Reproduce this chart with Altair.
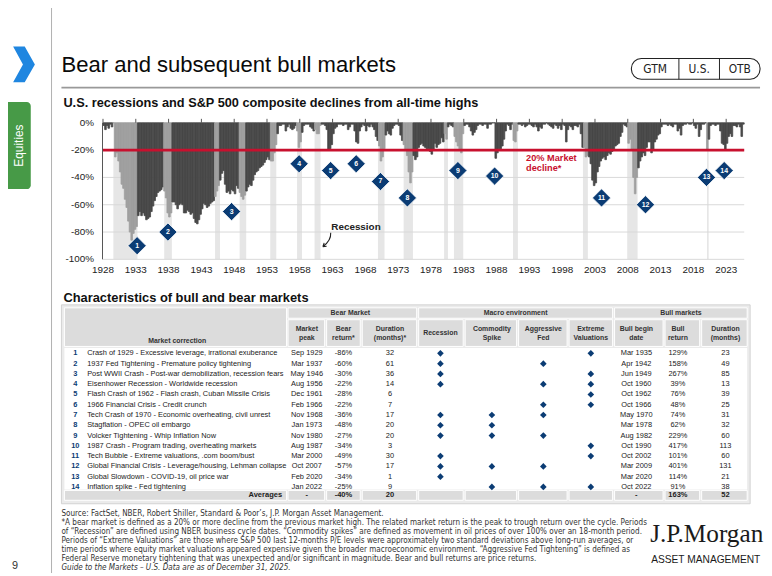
import altair as alt
import pandas as pd

OFF = 8
W, H = 764, 568


def P(v):
    return v - OFF


SANS = "Liberation Sans, Arial, Helvetica, sans-serif"
NARROW = "Liberation Sans Narrow, Arial Narrow, DejaVu Sans Condensed, sans-serif"
SERIF = "Liberation Serif, Times New Roman, serif"
NAVY = "#0b3c74"
DARK = "#484848"
MID = "#9f9f9f"
BAND = "#e6e6e6"
RED = "#c8102e"

# ---------------- chart data ----------------
START_YEAR = 1928
# quarterly decline from all-time high (%)
drawdown_pct = [
    -2, -5, -2, -4,      # 1928
    -1, -3, 0, -25,      # 1929
    -22, -28, -36, -45,  # 1930
    -48, -56, -62, -72,  # 1931
    -80, -86, -81, -78,  # 1932
    -76, -68, -65, -68,  # 1933
    -66, -68, -71, -70,  # 1934
    -69, -65, -61, -57,  # 1935
    -54, -51, -50, -49,  # 1936
    -47, -50, -55, -66,  # 1937
    -69, -66, -58, -58,  # 1938
    -60, -63, -60, -59,  # 1939
    -60, -66, -66, -64,  # 1940
    -65, -67, -66, -70,  # 1941
    -73, -74, -71, -67,  # 1942
    -63, -59, -60, -62,  # 1943
    -61, -59, -58, -57,  # 1944
    -54, -50, -46, -42,  # 1945
    -37, -35, -45, -51,  # 1946
    -50, -52, -49, -50,  # 1947
    -52, -46, -48, -51,  # 1948
    -54, -56, -53, -50,  # 1949
    -47, -45, -46, -42,  # 1950
    -38, -36, -35, -33,  # 1951
    -32, -31, -29, -27,  # 1952
    -25, -27, -28, -28,  # 1953
    -22, -16, -8, -2,    # 1954
    -2, -1, -1, -6,      # 1955
    -3, -1, -4, -5,      # 1956
    -4, -2, -6, -18,     # 1957
    -14, -7, -2, -1,     # 1958
    -1, -1, -3, -4,      # 1959
    -6, -5, -8, -8,      # 1960
    -2, -1, -1, -2,      # 1961
    -5, -20, -19, -16,   # 1962
    -8, -4, -3, -1,      # 1963
    -1, -1, -2, -1,      # 1964
    -1, -5, -3, -1,      # 1965
    -1, -6, -14, -15,    # 1966
    -6, -3, -1, -2,      # 1967
    -6, -2, -3, -1,      # 1968
    -3, -5, -10, -13,    # 1969
    -17, -28, -25, -19,  # 1970
    -9, -6, -8, -9,      # 1971
    -4, -2, -1, -1,      # 1972
    -2, -9, -13, -16,    # 1973
    -20, -24, -36, -44,  # 1974
    -36, -24, -27, -25,  # 1975
    -18, -16, -15, -17,  # 1976
    -18, -19, -19, -21,  # 1977
    -23, -20, -15, -18,  # 1978
    -16, -15, -11, -14,  # 1979
    -8, -12, -3, -1,     # 1980
    -2, -3, -10, -14,    # 1981
    -17, -19, -22, -8,   # 1982
    -2, -1, -1, -3,      # 1983
    -6, -9, -7, -5,      # 1984
    -2, -1, -1, -2,      # 1985
    -1, -1, -4, -1,      # 1986
    -1, 0, 0, -26,       # 1987
    -22, -19, -19, -17,  # 1988
    -12, -6, -1, -2,     # 1989
    -5, -1, -13, -14,    # 1990
    -6, -1, -1, -2,      # 1991
    -1, -3, -2, -1,      # 1992
    -1, -2, -3, -1,      # 1993
    -3, -6, -3, -4,      # 1994
    -1, -1, 0, -1,       # 1995
    -2, -3, -4, -1,      # 1996
    -2, -4, -2, -5,      # 1997
    -1, -2, -14, -5,     # 1998
    -2, -3, -5, -2,      # 1999
    -2, -3, -1, -8,      # 2000
    -18, -18, -25, -24,  # 2001
    -25, -30, -42, -46,  # 2002
    -44, -36, -32, -28,  # 2003
    -26, -25, -27, -24,  # 2004
    -22, -23, -21, -20,  # 2005
    -17, -16, -15, -10,  # 2006
    -7, -1, -2, -3,      # 2007
    -15, -12, -20, -40,  # 2008
    -52, -40, -33, -28,  # 2009
    -25, -22, -24, -18,  # 2010
    -14, -14, -22, -20,  # 2011
    -14, -12, -9, -8,    # 2012
    -3, -1, -1, -1,      # 2013
    -2, -1, -2, -3,      # 2014
    -1, -1, -6, -4,      # 2015
    -9, -2, -1, -1,      # 2016
    0, -1, -1, 0,        # 2017
    -2, -4, -1, -10,     # 2018
    -5, -1, -1, 0,       # 2019
    -20, -12, -2, -1,    # 2020
    -1, -2, -1, -1,      # 2021
    -6, -15, -16, -20,   # 2022
    -15, -10, -8, -10,   # 2023
    -2, -2, -3, -1,      # 2024
    -3, -10, -1,         # 2025
]

recession_start = ["1929-08", "1937-05", "1945-02", "1948-11", "1953-07", "1957-08", "1960-04",
                   "1969-12", "1973-11", "1980-01", "1981-07", "1990-07", "2001-03", "2007-12", "2020-02"]
recession_end = ["1933-03", "1938-06", "1945-10", "1949-10", "1954-05", "1958-04", "1961-02",
                 "1970-11", "1975-03", "1980-07", "1982-11", "1991-03", "2001-11", "2009-06", "2020-04"]

marker_no = list(range(1, 15))
marker_year = [1933.2, 1937.9, 1947.6, 1957.9, 1962.7, 1966.6, 1970.3, 1974.4,
               1982.1, 1987.7, 2004.0, 2010.7, 2020.0, 2022.7]
marker_pct = [-90, -80, -65, -30, -35, -30, -43, -55, -35, -39, -55, -60, -40, -35]

y_ticks = [0, -20, -40, -60, -80, -100]
x_ticks = list(range(1928, 2024, 5))

# ---------------- table data ----------------
row_no = list(range(1, 15))
corrections = [
    "Crash of 1929 - Excessive leverage, irrational exuberance",
    "1937 Fed Tightening - Premature policy tightening",
    "Post WWII Crash - Post-war demobilization, recession fears",
    "Eisenhower Recession - Worldwide recession",
    "Flash Crash of 1962 - Flash crash, Cuban Missile Crisis",
    "1966 Financial Crisis - Credit crunch",
    "Tech Crash of 1970 - Economic overheating, civil unrest",
    "Stagflation - OPEC oil embargo",
    "Volcker Tightening - Whip Inflation Now",
    "1987 Crash - Program trading, overheating markets",
    "Tech Bubble - Extreme valuations, .com boom/bust",
    "Global Financial Crisis - Leverage/housing, Lehman collapse",
    "Global Slowdown - COVID-19, oil price war",
    "Inflation spike - Fed tightening",
]
market_peak = ["Sep 1929", "Mar 1937", "May 1946", "Aug 1956", "Dec 1961", "Feb 1966", "Nov 1968",
               "Jan 1973", "Nov 1980", "Aug 1987", "Mar 2000", "Oct 2007", "Feb 2020", "Jan 2022"]
bear_return = ["-86%", "-60%", "-30%", "-22%", "-28%", "-22%", "-36%", "-48%", "-27%", "-34%",
               "-49%", "-57%", "-34%", "-25%"]
bear_duration = [32, 61, 36, 14, 6, 7, 17, 20, 20, 3, 30, 17, 1, 9]
recession_flag = [1, 1, 1, 1, 0, 0, 1, 1, 1, 0, 1, 1, 1, 0]
commodity_flag = [0, 0, 0, 0, 0, 0, 1, 1, 1, 0, 0, 1, 0, 1]
aggressive_fed_flag = [0, 1, 0, 1, 0, 1, 1, 0, 1, 0, 0, 1, 0, 1]
extreme_val_flag = [1, 0, 1, 1, 1, 1, 0, 0, 0, 1, 1, 0, 0, 1]
bull_begin = ["Mar 1935", "Apr 1942", "Jun 1949", "Oct 1960", "Oct 1962", "Oct 1966", "May 1970",
              "Mar 1978", "Aug 1982", "Oct 1990", "Oct 2002", "Mar 2009", "Mar 2020", "Oct 2022"]
bull_return = ["129%", "158%", "267%", "39%", "76%", "48%", "74%", "62%", "229%", "417%",
               "101%", "401%", "114%", "91%"]
bull_duration = [23, 49, 85, 13, 39, 25, 31, 32, 60, 113, 60, 131, 21, 38]
averages = {"peak": "-", "bear": "-40%", "dur": "20", "bbeg": "-", "bret": "163%", "bdur": "52"}

footnotes = [
    "Source: FactSet, NBER, Robert Shiller, Standard & Poor\u2019s, J.P. Morgan Asset Management.",
    "*A bear market is defined as a 20% or more decline from the previous market high. The related market return is the peak to trough return over the cycle. Periods",
    "of \u201cRecession\u201d are defined using NBER business cycle dates. \u201cCommodity spikes\u201d are defined as movement in oil prices of over 100% over an 18-month period.",
    "Periods of \u201cExtreme Valuations\u201d are those where S&P 500 last 12-months P/E levels were approximately two standard deviations above long-run averages, or",
    "time periods where equity market valuations appeared expensive given the broader macroeconomic environment. \u201cAggressive Fed Tightening\u201d is defined as",
    "Federal Reserve monetary tightening that was unexpected and/or significant in magnitude. Bear and bull returns are price returns.",
]
guide_line = "Guide to the Markets \u2013 U.S. Data are as of December 31, 2025."


# ---------------- frames ----------------
def ym(s, end=False):
    y, m = s.split("-")
    return int(y) + (int(m) - (0 if end else 1)) / 12


rec_s = [ym(s) for s in recession_start]
rec_e = [ym(s, True) for s in recession_end]
df_rec = pd.DataFrame({"s": rec_s, "e": rec_e})

t0 = [START_YEAR + i * 0.25 for i in range(len(drawdown_pct))]
kinds = []
for t in t0:
    mid = t + 0.125
    kinds.append("Recession" if any(a <= mid < b for a, b in zip(rec_s, rec_e)) else "Market")
df_dd = pd.DataFrame({"t": t0, "t2": [t + 0.25 for t in t0], "dd": drawdown_pct,
                      "zero": [0] * len(t0), "kind": kinds})
df_mk = pd.DataFrame({"n": marker_no, "yr": marker_year, "v": marker_pct})
df_yt = pd.DataFrame({"v": y_ticks, "lab": [f"{v}%" for v in y_ticks]})
df_xt = pd.DataFrame({"yr": x_ticks, "lab": [str(v) for v in x_ticks]})

ONE = alt.Data(values=[{"k": 0}])

XS = alt.Scale(domain=[1928, 2025.75], range=[P(104), P(752)], nice=False, zero=False)
YS = alt.Scale(domain=[-100, 0], range=[P(259), P(121)], nice=False, zero=False)
CS = alt.Scale(domain=["Market", "Recession"], range=[DARK, MID])


def xq(f):
    return alt.X(f, type="quantitative", scale=XS, axis=None)


def yq(f):
    return alt.Y(f, type="quantitative", scale=YS, axis=None)


bands = alt.Chart(df_rec).mark_rect(color=BAND).encode(
    x=xq("s"), x2="e",
    y=alt.Y(datum=-100, type="quantitative", scale=YS, axis=None), y2=alt.Y2(datum=0))
grid = alt.Chart(pd.DataFrame({"v": [-20, -40, -60, -80, -100]})).mark_rule(
    color="#d9d9d9", strokeWidth=1).encode(y=yq("v"), x=alt.value(P(104)), x2=alt.value(P(752)))
bars = alt.Chart(df_dd).mark_rect(strokeWidth=0.8).encode(
    x=xq("t"), x2="t2", y=yq("dd"), y2="zero",
    color=alt.Color("kind:N", scale=CS, legend=None),
    stroke=alt.Stroke("kind:N", scale=CS, legend=None))
redline = alt.Chart(ONE).mark_rule(color=RED, strokeWidth=2.6).encode(
    y=alt.Y(datum=-20, type="quantitative", scale=YS, axis=None),
    x=alt.value(P(104)), x2=alt.value(P(752)))
leftaxis = alt.Chart(ONE).mark_rule(color="#555555", strokeWidth=1).encode(
    x=alt.value(P(103.5)), y=alt.Y(datum=0, type="quantitative", scale=YS, axis=None),
    y2=alt.Y2(datum=-100))
ticks = alt.Chart(df_xt).mark_rule(color="#555555", strokeWidth=1).encode(
    x=xq("yr"), y=alt.Y(datum=0, type="quantitative", scale=YS, axis=None), y2=alt.value(P(117)))
xlabels = alt.Chart(df_xt).mark_text(fontSize=10, font=SANS, color="#222222", baseline="middle").encode(
    x=xq("yr"), y=alt.value(P(270)), text="lab:N")
ylabels = alt.Chart(df_yt).mark_text(fontSize=10, font=SANS, color="#222222", align="right",
                                     baseline="middle").encode(
    x=alt.value(P(95)), y=yq("v"), text="lab:N")
rec_label = alt.Chart(ONE).mark_text(fontSize=10, font=SANS, fontWeight="bold", color="#222222",
                                     align="left", baseline="middle").encode(
    x=alt.X(datum=1962.8, type="quantitative", scale=XS, axis=None),
    y=alt.Y(datum=-76.5, type="quantitative", scale=YS, axis=None), text=alt.value("Recession"))
arrow = alt.Chart(ONE).mark_point(
    shape="M0.45,-1 C0.5,-0.3 0.1,0.35 -0.6,0.85 M-0.6,0.85 L-0.1,0.8 M-0.6,0.85 L-0.42,0.35",
    filled=False, size=230, color="#222222", strokeWidth=1.1, opacity=1).encode(
    x=alt.X(datum=1962.2, type="quantitative", scale=XS, axis=None),
    y=alt.Y(datum=-86, type="quantitative", scale=YS, axis=None))
dec1 = alt.Chart(ONE).mark_text(fontSize=9.3, font=SANS, fontWeight="bold", color=RED,
                                align="left", baseline="middle").encode(
    x=alt.X(datum=1992.5, type="quantitative", scale=XS, axis=None),
    y=alt.Y(datum=-25.6, type="quantitative", scale=YS, axis=None), text=alt.value("20% Market"))
dec2 = alt.Chart(ONE).mark_text(fontSize=9.3, font=SANS, fontWeight="bold", color=RED,
                                align="left", baseline="middle").encode(
    x=alt.X(datum=1992.5, type="quantitative", scale=XS, axis=None),
    y=alt.Y(datum=-33.4, type="quantitative", scale=YS, axis=None), text=alt.value("decline*"))
diamonds = alt.Chart(df_mk).mark_point(shape="diamond", filled=True, size=340, color=NAVY,
                                       stroke="white", strokeWidth=0.8, opacity=1).encode(
    x=xq("yr"), y=yq("v"))
dnums = alt.Chart(df_mk).mark_text(fontSize=7, font=SANS, fontWeight="bold", color="white",
                                   baseline="middle").encode(
    x=xq("yr"), y=yq("v"), text="n:N")

chart_group = alt.layer(bands, grid, bars, redline, leftaxis, ticks, xlabels, ylabels,
                        rec_label, arrow, dec1, dec2, diamonds, dnums)


# ---------------- decoration helpers ----------------
def box(x0, y0, x1, y1, fill, stroke=None, sw=1.0, r=0):
    kw = dict(fill=fill)
    if stroke:
        kw.update(stroke=stroke, strokeWidth=sw)
    else:
        kw.update(strokeWidth=0)
    if r:
        kw["cornerRadius"] = r
    return alt.Chart(ONE).mark_rect(**kw).encode(
        x=alt.value(P(x0)), x2=alt.value(P(x1)), y=alt.value(P(y0)), y2=alt.value(P(y1)))


def hline(x0, x1, y, color, w=1.0):
    return alt.Chart(ONE).mark_rule(color=color, strokeWidth=w).encode(
        x=alt.value(P(x0)), x2=alt.value(P(x1)), y=alt.value(P(y)))


def vline(x, y0, y1, color, w=1.0):
    return alt.Chart(ONE).mark_rule(color=color, strokeWidth=w).encode(
        x=alt.value(P(x)), y=alt.value(P(y0)), y2=alt.value(P(y1)))


def label(txt, x, y, size, color="#222222", weight="normal", align="left", baseline="middle",
          font=SANS, angle=0, style="normal", line_h=None):
    kw = dict(fontSize=size, color=color, fontWeight=weight, align=align, baseline=baseline,
              font=font, fontStyle=style)
    if angle:
        kw["angle"] = angle
    if line_h:
        kw["lineBreak"] = "\n"
        kw["lineHeight"] = line_h
    return alt.Chart(ONE).mark_text(**kw).encode(
        x=alt.value(P(x)), y=alt.value(P(y)), text=alt.value(txt))


deco = [
    vline(52, 0, 576, "#b0b0b0", 1),
    alt.Chart(ONE).mark_point(shape="M-0.6,-1 L0.05,-1 L0.62,0 L0.05,1 L-0.6,1 L-0.05,0 Z",
                              filled=True, size=1300, color="#1f86e0", opacity=1).encode(
        x=alt.value(P(24)), y=alt.value(P(62))),
    box(0, 100, 31, 188, "#479a47", r=4),
    label("Equities", 19, 144, 12, color="white", align="center", angle=270),
    label("Bear and subsequent bull markets", 62, 63, 22.3, color="#0a0a0a"),
    hline(62, 768, 85.5, "#999999", 1.6),
    box(638, 56, 768, 77, "white", stroke="#222222", sw=1.1, r=10),
    vline(686, 56, 77, "#222222", 1),
    vline(727, 56, 77, "#222222", 1),
    label("GTM", 662, 67, 12, align="center", font=NARROW),
    label("U.S.", 706.5, 67, 12, align="center", font=NARROW),
    label("OTB", 747.5, 67, 12, align="center", font=NARROW),
    label("U.S. recessions and S&P 500 composite declines from all-time highs", 64, 101, 12.9,
          color="#111111", weight="bold"),
    label("Characteristics of bull and bear markets", 64, 298, 13, color="#111111", weight="bold"),
    label("9", 12, 569, 11, color="#333333"),
]

# ---------------- table ----------------
tdf = pd.DataFrame({
    "row": row_no, "num": [str(n) for n in row_no], "desc": corrections, "peak": market_peak,
    "bear": bear_return, "dur": [str(v) for v in bear_duration], "rec": recession_flag,
    "com": commodity_flag, "agg": aggressive_fed_flag, "ext": extreme_val_flag,
    "bbeg": bull_begin, "bret": bull_return, "bdur": [str(v) for v in bull_duration],
})
YR = alt.Scale(domain=[1, 14], range=[P(354), P(489)], nice=False, zero=False)

CELL = "#dcdcdc"
cols = {  # key: (x0, x1, text centre)
    "peak": (291, 328, 310), "bear": (330, 364, 347), "dur": (366, 421, 394),
    "rec": (423, 468, 445), "com": (470, 522, 497), "agg": (524, 573, 549), "ext": (575, 619, 597),
    "bbeg": (621, 670, 643), "bret": (672, 707, 685), "bdur": (709, 755, 733),
}
sub_heads = {
    "peak": "Market\npeak", "bear": "Bear\nreturn*", "dur": "Duration\n(months)*",
    "rec": "Recession", "com": "Commodity\nSpike", "agg": "Aggressive\nFed",
    "ext": "Extreme\nValuations", "bbeg": "Bull begin\ndate", "bret": "Bull\nreturn",
    "bdur": "Duration\n(months)",
}

table_boxes = [
    box(62, 305, 758, 506, "#ebebeb", stroke="#d2d2d2", sw=1),
    box(65, 308, 289.5, 347, CELL, stroke="white", sw=1),
    box(291, 308, 421, 318.5, CELL, stroke="white", sw=1),
    box(423, 308, 619, 318.5, CELL, stroke="white", sw=1),
    box(621, 308, 755, 318.5, CELL, stroke="white", sw=1),
    box(65, 348.5, 755, 491.5, "white"),
    box(65, 492.5, 289.5, 502.5, CELL, stroke="white", sw=1),
]
for k, (x0, x1, xc) in cols.items():
    table_boxes.append(box(x0, 320, x1, 347, CELL, stroke="white", sw=1))
    table_boxes.append(box(x0, 492.5, x1, 502.5, CELL, stroke="white", sw=1))

HB = dict(size=7.0, weight="bold", color="#333333", align="center")
table_heads = [
    label("Bear Market", 354, 313.5, **HB),
    label("Macro environment", 521, 313.5, **HB),
    label("Bull markets", 688, 313.5, **HB),
    label("Market correction", 179, 342, **HB),
]
for k, (x0, x1, xc) in cols.items():
    txt = sub_heads[k]
    table_heads.append(label(txt, xc, 333.5 if "\n" not in txt else 329.5, line_h=9, **HB))

table_heads.append(label("Averages", 285, 497.5, 7.6, weight="bold", align="right", color="#222222"))
for k in ["peak", "bear", "dur", "bbeg", "bret", "bdur"]:
    table_heads.append(label(averages[k], cols[k][2], 497.5, 7.6, weight="bold", align="center",
                             color="#222222"))


def tcol(field, x, align="center", color="#222222", weight="normal"):
    return alt.Chart(tdf).mark_text(align=align, baseline="middle", fontSize=7.5, font=SANS,
                                    color=color, fontWeight=weight).encode(
        x=alt.value(P(x)), y=alt.Y("row:Q", scale=YR, axis=None), text=f"{field}:N")


def tflag(field, x):
    return alt.Chart(tdf).transform_filter(f"datum.{field} == 1").mark_point(
        shape="diamond", filled=True, size=45, color=NAVY, opacity=1).encode(
        x=alt.value(P(x)), y=alt.Y("row:Q", scale=YR, axis=None))


table_group = alt.layer(
    tcol("num", 76, color=NAVY, weight="bold"),
    tcol("desc", 88, align="left"),
    *[tcol(k, cols[k][2]) for k in ["peak", "bear", "dur", "bbeg", "bret", "bdur"]],
    *[tflag(k, cols[k][2]) for k in ["rec", "com", "agg", "ext"]],
)

# ---------------- footer ----------------
footer = []
for i, line in enumerate(footnotes):
    footer.append(label(line, 62, 516 + 9.1 * i, 8.15, color="#333333", font=NARROW))
footer.append(label(guide_line, 62, 516 + 9.1 * 6, 8.15, color="#333333", font=NARROW, style="italic"))
footer.append(label("J.P.Morgan", 657, 537, 25.5, color="#1a1a1a", font=SERIF))
footer.append(label("ASSET MANAGEMENT", 658, 563, 10.3, color="#1a1a1a", font=SANS))

chart = alt.layer(
    *deco, chart_group, *table_boxes, *table_heads, table_group, *footer
).resolve_scale(
    x="independent", y="independent", color="independent", stroke="independent"
).properties(
    width=W, height=H, autosize=alt.AutoSizeParams(type="none"), padding=0, background="white"
).configure_view(stroke=None)

chart.save("out.html", embed_options={"renderer": "svg", "actions": False})
